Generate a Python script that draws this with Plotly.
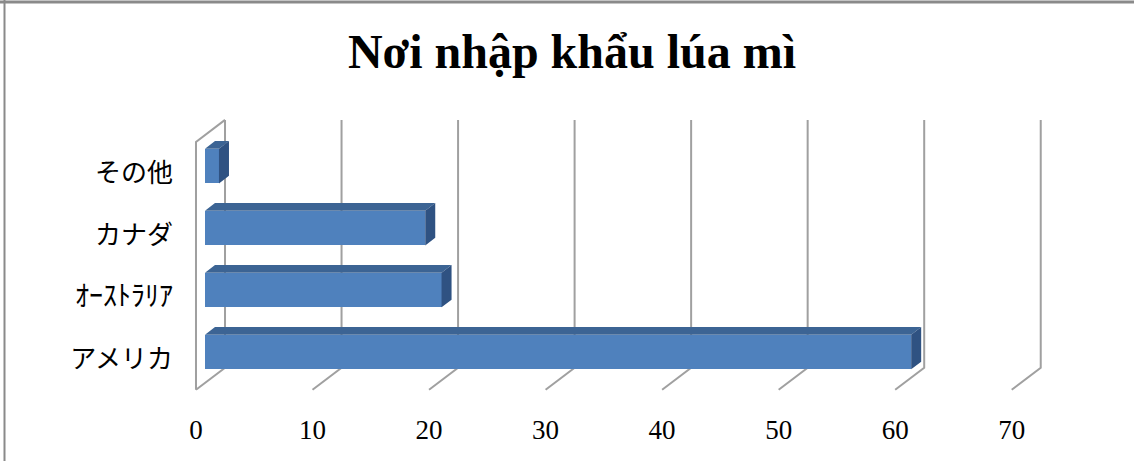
import plotly.graph_objects as go

# data
countries = ['アメリカ', 'ｵｰｽﾄﾗﾘｱ', 'カナダ', 'その他']
share = [60.6, 20.3, 18.9, 1.2]
x_ticks = [0, 10, 20, 30, 40, 50, 60, 70]
title_text = 'Nơi nhập khẩu lúa mì'

W, H = 1134, 461
ML, MR, MT, MB = 189, 85, 114, 65
X_RANGE = [-0.6, 73.2]
Y_RANGE = [-0.6, 3.95]

# oblique 3D projection: full depth shifts right/up in data units
DEPTH_X, DEPTH_Y = 2.49, 0.355
BAR_D0, BAR_D1 = 0.31, 0.655
BAR_HALF = 0.28

FRONT = '#4f81bd'
TOP = '#3c6494'
SIDE = '#2f5282'
GRID = '#a0a0a0'

rows = list(range(len(countries)))
floor, ceil = -0.5, len(countries) - 0.5

fig = go.Figure()

# walls / grid on the base axes: left wall edges, floor slants, back verticals
gx, gy = [0, 0, DEPTH_X, None], [floor, ceil, ceil + DEPTH_Y, None]
for v in x_ticks:
    gx += [v, v + DEPTH_X, v + DEPTH_X, None]
    gy += [floor, floor + DEPTH_Y, ceil + DEPTH_Y, None]
fig.add_trace(go.Scatter(x=gx, y=gy, mode='lines', cliponaxis=False,
                         line=dict(color=GRID, width=2), hoverinfo='skip'))

dx0, dy0 = BAR_D0 * DEPTH_X, BAR_D0 * DEPTH_Y
dx1, dy1 = BAR_D1 * DEPTH_X, BAR_D1 * DEPTH_Y

# bars on overlaid axes so they sit above the grid
fig.add_trace(go.Bar(
    y=[r + dy0 for r in rows], x=share, base=dx0, orientation='h',
    width=2 * BAR_HALF, marker=dict(color=FRONT, line=dict(width=0)),
    hoverinfo='skip', xaxis='x2', yaxis='y2',
))

tx, ty, sx, sy = [], [], [], []
for r, v in zip(rows, share):
    lo, hi = r - BAR_HALF, r + BAR_HALF
    tx += [dx0, v + dx0, v + dx1, dx1, dx0, None]
    ty += [hi + dy0, hi + dy0, hi + dy1, hi + dy1, hi + dy0, None]
    sx += [v + dx0, v + dx0, v + dx1, v + dx1, v + dx0, None]
    sy += [lo + dy0, hi + dy0, hi + dy1, lo + dy1, lo + dy0, None]
fig.add_trace(go.Scatter(x=tx, y=ty, fill='toself', fillcolor=TOP, mode='lines',
                         line=dict(width=0, color=TOP), hoverinfo='skip',
                         xaxis='x2', yaxis='y2'))
fig.add_trace(go.Scatter(x=sx, y=sy, fill='toself', fillcolor=SIDE, mode='lines',
                         line=dict(width=0, color=SIDE), hoverinfo='skip',
                         xaxis='x2', yaxis='y2'))

# chart frame (top and left edges)
pw, ph = W - ML - MR, H - MT - MB
def px_x(p): return (p - ML) / pw
def px_y(p): return (H - MB - p) / ph
fig.add_shape(type='line', xref='paper', yref='paper',
              x0=px_x(0), x1=px_x(W), y0=px_y(2), y1=px_y(2),
              line=dict(color='#8a8a8a', width=3))
fig.add_shape(type='line', xref='paper', yref='paper',
              x0=px_x(4.5), x1=px_x(4.5), y0=px_y(0), y1=px_y(H),
              line=dict(color='#8a8a8a', width=2))

labels = [c if c != 'ｵｰｽﾄﾗﾘｱ' else '<span style="font-size:28px">ｵｰｽﾄﾗﾘｱ</span>'
          for c in countries]
hidden = dict(showgrid=False, zeroline=False, showline=False,
              showticklabels=False, ticks='', automargin=False)

fig.update_layout(
    width=W, height=H, autosize=False,
    margin=dict(l=ML, r=MR, t=MT, b=MB, autoexpand=False),
    paper_bgcolor='white', plot_bgcolor='white',
    showlegend=False, bargap=0,
    title=dict(text=f'<b>{title_text}</b>', x=572 / W, xanchor='center',
               y=1 - 51 / H, yanchor='middle', yref='container', automargin=False,
               font=dict(family='Liberation Serif', size=48, color='black')),
    xaxis=dict(range=X_RANGE, showgrid=False, zeroline=False, showline=False,
               tickvals=x_ticks, ticktext=[str(v) for v in x_ticks], ticks='',
               ticklabelstandoff=15, automargin=False,
               tickfont=dict(family='Liberation Serif', size=27, color='black')),
    yaxis=dict(range=Y_RANGE, showgrid=False, zeroline=False, showline=False,
               tickvals=rows, ticktext=labels, ticks='', ticklabelstandoff=15,
               automargin=False,
               tickfont=dict(family='Noto Sans CJK JP', size=26, color='black')),
    xaxis2={**hidden, 'range': X_RANGE, 'overlaying': 'x'},
    yaxis2={**hidden, 'range': Y_RANGE, 'overlaying': 'y'},
)

# the page body has a default 8px margin; drop it so the figure fills the window
fig.write_html('out.html', config={'displayModeBar': False},
               post_script="document.body.style.margin = '0';")
